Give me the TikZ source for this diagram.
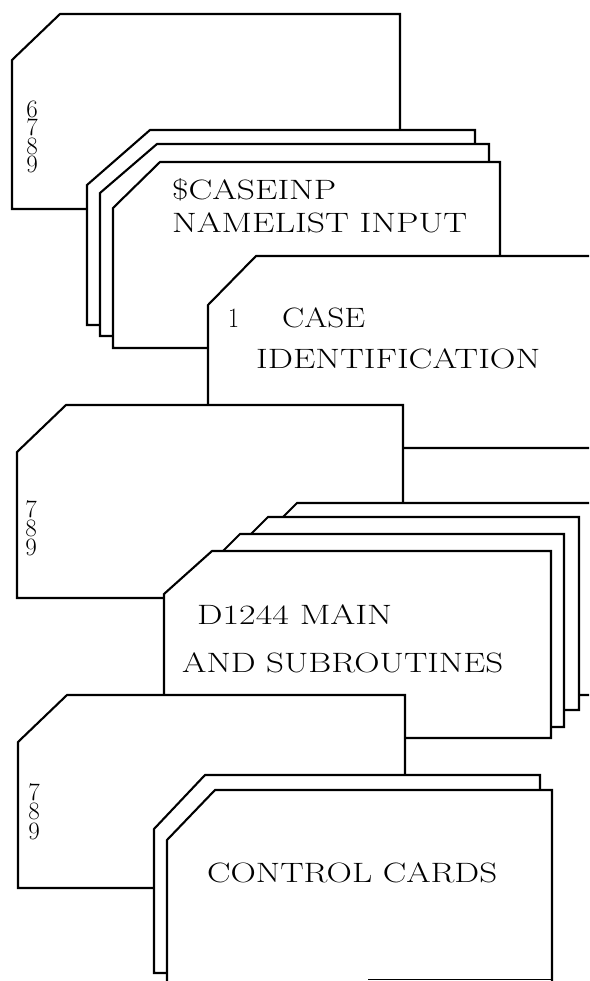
\documentclass[tikz,border=0pt]{standalone}
\usepackage{fontspec}
\usepackage{graphicx}
\newcommand{\fitlbl}[2]{\resizebox{#1}{\height}{\fontsize{28}{30}\selectfont\addfontfeature{FakeBold=1.2}#2}}
\newcommand{\digstack}[2]{\vbox{\baselineskip=#1\lineskiplimit=-20pt #2}}
\begin{document}
\begin{tikzpicture}[x=1pt,y=-1pt,
  card/.style={fill=white, draw=black, line width=2.1pt, line join=miter},
  edge/.style={draw=black, line width=2.1pt},
  lbl/.style={inner sep=0pt, anchor=base west},
  digit/.style={inner sep=0pt, anchor=base, font=\fontsize{25}{25}\selectfont\addfontfeature{FakeBold=1.2}}]
\useasboundingbox (0,0) rectangle (589,981);
\clip (0,0) rectangle (589,981);
\fill[white] (0,0) rectangle (589,981);
% card 1 (6 7 8 9)
\path[card] (60,14) -- (400,14) -- (400,209) -- (12,209) -- (12,60) -- cycle;
\node[digit] (stack1) at (32,173) {\digstack{18.5pt}{\hbox{6}\hbox{7}\hbox{8}\hbox{9}}};
% namelist deck
\path[card] (150,130) -- (475,130) -- (475,325) -- (87,325) -- (87,185) -- cycle;
\path[card] (157,144) -- (489,144) -- (489,336) -- (100,336) -- (100,193) -- cycle;
\path[card] (160,162) -- (500,162) -- (500,348) -- (113,348) -- (113,208) -- cycle;
\node[lbl] (caseinp) at (172,200) {\fitlbl{164pt}{\$CASEINP}};
\node[lbl] (namelist) at (172,233) {\fitlbl{295pt}{NAMELIST INPUT}};
% case identification card
\path[card] (256,256) -- (620,256) -- (620,448) -- (208,448) -- (208,305) -- cycle;
\node[lbl] (one) at (228,327) {\fitlbl{11pt}{1}};
\node[lbl] (case) at (282,327) {\fitlbl{83pt}{CASE}};
\node[lbl] (ident) at (256,368) {\fitlbl{284pt}{IDENTIFICATION}};
% card 4 (7 8 9)
\path[card] (66,405) -- (403,405) -- (403,598) -- (17,598) -- (17,452) -- cycle;
\node[digit] (stack4) at (31,555) {\digstack{19pt}{\hbox{7}\hbox{8}\hbox{9}}};
% D1244 deck
\path[card] (297,503) -- (620,503) -- (620,695) -- (250,695) -- (250,550) -- cycle;
\path[card] (268,517) -- (579,517) -- (579,710) -- (225,710) -- (225,560) -- cycle;
\path[card] (240,534) -- (564,534) -- (564,727) -- (200,727) -- (200,574) -- cycle;
\path[card] (212,551) -- (551,551) -- (551,738) -- (164,738) -- (164,594) -- cycle;
\node[lbl] (d1244) at (197,624) {\fitlbl{195pt}{D1244 MAIN}};
\node[lbl] (subr) at (182,672) {\fitlbl{321pt}{AND SUBROUTINES}};
% card 6 (7 8 9)
\path[card] (67,695) -- (405,695) -- (405,888) -- (18,888) -- (18,742) -- cycle;
\node[digit] (stack6) at (34,839) {\digstack{19.5pt}{\hbox{7}\hbox{8}\hbox{9}}};
% control cards deck
\path[card] (205,775) -- (540,775) -- (540,973) -- (154,973) -- (154,829) -- cycle;
\fill[white] (215,790) -- (552,790) -- (552,979) -- (167,985) -- (167,840) -- cycle;
\path[edge] (167,985) -- (167,840) -- (215,790) -- (552,790) -- (552,985);
\draw[line width=1pt] (368,979) -- (552,979);
\node[lbl] (ctrl) at (207,882) {\fitlbl{290pt}{CONTROL CARDS}};
\end{tikzpicture}
\end{document}
